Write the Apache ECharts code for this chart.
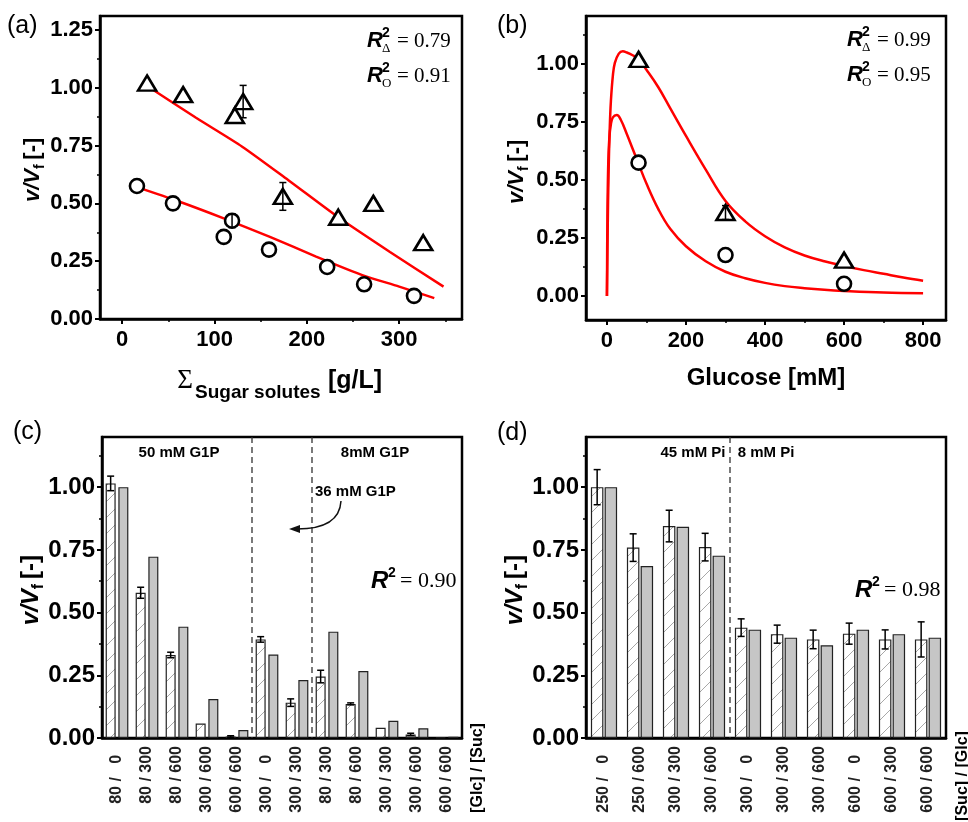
<!DOCTYPE html>
<html><head><meta charset="utf-8">
<script src="https://cdn.jsdelivr.net/npm/echarts@6/dist/echarts.min.js"></script>
<style>html,body{margin:0;padding:0;background:#fff}#c{width:968px;height:822px}</style>
</head><body><div id="c"></div>
<script>
// ---------- Panel (a) ----------
const aTriX = [27, 66, 122, 131, 174, 234, 272, 326];
const aTriY = [1.02, 0.97, 0.88, 0.94, 0.53, 0.44, 0.50, 0.33];
const aTriErr = [0, 0, 0, 0.07, 0.06, 0, 0, 0];
const aCirX = [16, 55, 110, 119, 159, 222, 262, 316];
const aCirY = [0.575, 0.50, 0.355, 0.425, 0.30, 0.225, 0.15, 0.10];
const aCirErr = [0, 0, 0, 0.03, 0, 0, 0, 0];
const aFitTriX = [30, 80, 130, 180, 234, 290, 348];
const aFitTriY = [1.00, 0.87, 0.745, 0.60, 0.44, 0.29, 0.14];
const aFitCirX = [16, 60, 110, 160, 210, 260, 300, 338];
const aFitCirY = [0.57, 0.51, 0.435, 0.355, 0.27, 0.19, 0.14, 0.09];
const aXTicks = [0, 100, 200, 300];
const aYTicks = [0, 0.25, 0.5, 0.75, 1.0, 1.25];

// ---------- Panel (b) ----------
const bX = [80, 300, 600];
const bTriY = [1.02, 0.36, 0.155];
const bTriErr = [0, 0.03, 0];
const bCirY = [0.575, 0.177, 0.053];
const bFitTriX = [0, 2, 4, 7, 10, 15, 20, 30, 40, 50, 65, 80, 100, 130, 160, 200, 250, 300, 350, 400, 450, 500, 550, 600, 650, 700, 750, 800];
const bFitTriY = [0, 0.30, 0.52, 0.72, 0.84, 0.95, 1.005, 1.045, 1.055, 1.05, 1.038, 1.02, 0.975, 0.90, 0.81, 0.69, 0.545, 0.41, 0.322, 0.258, 0.21, 0.175, 0.15, 0.13, 0.112, 0.096, 0.08, 0.066];
const bFitCirX = [0, 1, 3, 6, 10, 15, 25, 35, 50, 65, 80, 100, 130, 160, 200, 250, 300, 350, 400, 450, 500, 550, 600, 700, 800];
const bFitCirY = [0, 0.30, 0.55, 0.68, 0.74, 0.77, 0.78, 0.76, 0.70, 0.635, 0.57, 0.485, 0.375, 0.29, 0.215, 0.15, 0.105, 0.077, 0.057, 0.043, 0.034, 0.027, 0.022, 0.015, 0.012];
const bXTicks = [0, 200, 400, 600, 800];
const bYTicks = [0, 0.25, 0.5, 0.75, 1.0];

// ---------- Panel (c) ----------
const cCats = ['80 / 0', '80 / 300', '80 / 600', '300 / 600', '600 / 600', '300 / 0', '300 / 300', '80 / 300', '80 / 600', '300 / 300', '300 / 600', '600 / 600'];
const cExp = [1.015, 0.579, 0.331, 0.058, 0.006, 0.393, 0.141, 0.245, 0.136, 0.041, 0.014, 0.002];
const cExpErr = [0.029, 0.022, 0.011, 0, 0.003, 0.011, 0.015, 0.025, 0.004, 0, 0.005, 0];
const cModel = [1.00, 0.723, 0.444, 0.155, 0.032, 0.333, 0.231, 0.424, 0.267, 0.069, 0.039, 0.005];

// ---------- Panel (d) ----------
const dCats = ['250 / 0', '250 / 600', '300 / 300', '300 / 600', '300 / 0', '300 / 300', '300 / 600', '600 / 0', '600 / 300', '600 / 600'];
const dExp = [1.00, 0.759, 0.845, 0.761, 0.44, 0.414, 0.393, 0.416, 0.393, 0.393];
const dExpErr = [0.07, 0.055, 0.063, 0.055, 0.035, 0.036, 0.037, 0.042, 0.038, 0.07];
const dModel = [1.00, 0.686, 0.842, 0.727, 0.432, 0.40, 0.37, 0.432, 0.414, 0.40];
const cdYTicks = [0, 0.25, 0.5, 0.75, 1.0];

const SANS = "'Liberation Sans', Arial, sans-serif";
const SERIF = "'Liberation Serif', 'Times New Roman', serif";
const chart = echarts.init(document.getElementById('c'));

function hatch() {
  const s = 16, c = document.createElement('canvas');
  c.width = s; c.height = s;
  const g = c.getContext('2d');
  g.fillStyle = '#fff'; g.fillRect(0, 0, s, s);
  g.strokeStyle = '#a8a8a8'; g.lineWidth = 1;
  g.beginPath();
  g.moveTo(0, s); g.lineTo(s, 0);
  g.moveTo(-2, 2); g.lineTo(2, -2);
  g.moveTo(s - 2, s + 2); g.lineTo(s + 2, s - 2);
  g.stroke();
  return c;
}
const HATCH = { image: hatch(), repeat: 'repeat' };

function valAxis(gi, min, max, ticks, fs, pos) {
  return {
    type: 'value', gridIndex: gi, min: min, max: max, position: pos,
    splitLine: { show: false },
    axisLine: { show: true, onZero: false, lineStyle: { color: '#000', width: 2.5 } },
    axisTick: { show: true, inside: false, length: 5, customValues: ticks, lineStyle: { color: '#000', width: 2 } },
    axisLabel: { show: true, customValues: ticks, fontSize: fs, fontWeight: 'bold', fontFamily: SANS, color: '#000', margin: pos === 'left' ? 7 : 10,
      formatter: pos === 'left' ? (v => Number(v).toFixed(2)) : (v => String(v)) }
  };
}
function minorAxis(gi, min, max, ticks, pos) {
  return {
    type: 'value', gridIndex: gi, min: min, max: max, position: pos,
    splitLine: { show: false }, axisLine: { show: false, onZero: false }, axisLabel: { show: false },
    axisTick: { show: true, inside: false, length: 3, customValues: ticks, lineStyle: { color: '#000', width: 1.5 } }
  };
}
function padLabel(v) {
  const parts = v.split(' / ');
  const b = parts[1];
  const pad = ' '.repeat(Math.max(0, 3 - b.length));
  return parts[0] + ' / ' + pad + b + pad;
}
function catAxis(gi, cats) {
  return {
    type: 'category', gridIndex: gi, data: cats, position: 'bottom',
    axisLine: { show: true, onZero: false, lineStyle: { color: '#000', width: 2.5 } },
    axisTick: { show: false },
    axisLabel: { interval: 0, rotate: 90, fontSize: 16, fontWeight: 'bold', fontFamily: SANS, color: '#222', margin: 8, formatter: padLabel }
  };
}
function errRender(dx) {
  return function (params, api) {
    const x = api.value(0), y = api.value(1), e = api.value(2);
    if (!e) return null;
    const p1 = api.coord([x, y + e]), p2 = api.coord([x, y - e]);
    const cx = p1[0] + dx, w = 3.5, st = { stroke: '#000', lineWidth: 1.5 };
    return { type: 'group', children: [
      { type: 'line', shape: { x1: cx, y1: p1[1], x2: cx, y2: p2[1] }, style: st },
      { type: 'line', shape: { x1: cx - w, y1: p1[1], x2: cx + w, y2: p1[1] }, style: st },
      { type: 'line', shape: { x1: cx - w, y1: p2[1], x2: cx + w, y2: p2[1] }, style: st }
    ] };
  };
}
const zip = (xs, ys) => xs.map((x, i) => [x, ys[i]]);
const zip3 = (xs, ys, es) => xs.map((x, i) => [x, ys[i], es[i]]);
const idx3 = (ys, es) => ys.map((y, i) => [i, y, es[i]]);

const symStyle = { color: '#fff', borderColor: '#000', borderWidth: 2.6, opacity: 1 };
const redLine = { color: '#ff0000', width: 2.5 };
const C_BW = 10, C_GAP = 2.7, D_BW = 12.5, D_GAP = 1.2;
const fitLine = (xi, yi, data, sm) => ({ type: 'line', xAxisIndex: xi, yAxisIndex: yi, data: data, smooth: sm, showSymbol: false, symbol: 'none', lineStyle: redLine, itemStyle: { color: '#ff0000' }, z: 2 });

const option = {
  animation: false,
  backgroundColor: '#fff',
  grid: [
    { left: 100, top: 16, width: 362, height: 303 },
    { left: 586, top: 16, width: 360, height: 304 },
    { left: 102, top: 437, width: 360, height: 301 },
    { left: 586, top: 437, width: 360, height: 301 }
  ].map(g => Object.assign(g, { show: true, borderColor: '#000', borderWidth: 2.5, backgroundColor: 'rgba(0,0,0,0)' })),
  xAxis: [
    valAxis(0, -24, 368, aXTicks, 22, 'bottom'),
    valAxis(1, -53, 858, bXTicks, 22, 'bottom'),
    catAxis(2, cCats),
    catAxis(3, dCats),
    minorAxis(0, -24, 368, [50, 150, 250, 350], 'bottom'),
    minorAxis(1, -53, 858, [100, 300, 500, 700], 'bottom')
  ],
  yAxis: [
    valAxis(0, 0, 1.31, aYTicks, 22, 'left'),
    valAxis(1, -0.103, 1.207, bYTicks, 22, 'left'),
    valAxis(2, 0, 1.2, cdYTicks, 24, 'left'),
    valAxis(3, 0, 1.2, cdYTicks, 24, 'left'),
    minorAxis(0, 0, 1.31, [0.125, 0.375, 0.625, 0.875, 1.125], 'left'),
    minorAxis(1, -0.103, 1.207, [0.125, 0.375, 0.625, 0.875, 1.125], 'left'),
    minorAxis(2, 0, 1.2, [0.125, 0.375, 0.625, 0.875, 1.125], 'left'),
    minorAxis(3, 0, 1.2, [0.125, 0.375, 0.625, 0.875, 1.125], 'left')
  ],
  series: [
    // (a)
    fitLine(0, 0, zip(aFitTriX, aFitTriY), 0.25),
    fitLine(0, 0, zip(aFitCirX, aFitCirY), 0.25),
    { type: 'scatter', xAxisIndex: 0, yAxisIndex: 0, data: zip(aTriX, aTriY), symbol: 'triangle', symbolSize: [18, 15], itemStyle: symStyle, z: 3 },
    { type: 'scatter', xAxisIndex: 0, yAxisIndex: 0, data: zip(aCirX, aCirY), symbol: 'circle', symbolSize: 14, itemStyle: symStyle, z: 3 },
    { type: 'custom', xAxisIndex: 0, yAxisIndex: 0, data: zip3(aTriX, aTriY, aTriErr), renderItem: errRender(0), z: 4 },
    { type: 'custom', xAxisIndex: 0, yAxisIndex: 0, data: zip3(aCirX, aCirY, aCirErr), renderItem: errRender(0), z: 4 },
    // (b)
    fitLine(1, 1, zip(bFitTriX, bFitTriY), 0.4),
    fitLine(1, 1, zip(bFitCirX, bFitCirY), 0.4),
    { type: 'scatter', xAxisIndex: 1, yAxisIndex: 1, data: zip(bX, bTriY), symbol: 'triangle', symbolSize: [18, 15], itemStyle: symStyle, z: 3 },
    { type: 'scatter', xAxisIndex: 1, yAxisIndex: 1, data: zip(bX, bCirY), symbol: 'circle', symbolSize: 14, itemStyle: symStyle, z: 3 },
    { type: 'custom', xAxisIndex: 1, yAxisIndex: 1, data: zip3(bX, bTriY, bTriErr), renderItem: errRender(0), z: 4 },
    // (c)
    { type: 'bar', xAxisIndex: 2, yAxisIndex: 2, data: cExp, barWidth: C_BW, barGap: (C_GAP / C_BW * 100) + '%', itemStyle: { color: HATCH, borderColor: '#222', borderWidth: 1.2 }, z: 2 },
    { type: 'bar', xAxisIndex: 2, yAxisIndex: 2, data: cModel, barWidth: C_BW, barGap: (C_GAP / C_BW * 100) + '%', itemStyle: { color: '#c6c6c6', borderColor: '#222', borderWidth: 1.2 }, z: 2 },
    { type: 'custom', xAxisIndex: 2, yAxisIndex: 2, data: idx3(cExp, cExpErr), renderItem: errRender(-(C_BW + C_GAP) / 2), z: 4 },
    // (d)
    { type: 'bar', xAxisIndex: 3, yAxisIndex: 3, data: dExp, barWidth: D_BW, barGap: (D_GAP / D_BW * 100) + '%', itemStyle: { color: HATCH, borderColor: '#222', borderWidth: 1.2 }, z: 2 },
    { type: 'bar', xAxisIndex: 3, yAxisIndex: 3, data: dModel, barWidth: D_BW, barGap: (D_GAP / D_BW * 100) + '%', itemStyle: { color: '#c6c6c6', borderColor: '#222', borderWidth: 1.2 }, z: 2 },
    { type: 'custom', xAxisIndex: 3, yAxisIndex: 3, data: idx3(dExp, dExpErr), renderItem: errRender(-(D_BW + D_GAP) / 2), z: 4 }
  ]
};
chart.setOption(option);

// ---------- annotations ----------
function txt(x, y, text, font, align, extra) {
  return Object.assign({ type: 'text', x: x, y: y, z: 100, style: { text: text, fill: '#000', font: font, align: align || 'center', textAlign: align || 'center', verticalAlign: 'middle', textVerticalAlign: 'middle' } }, extra || {});
}
function r2(x, y, sub, val, big) {
  const rs = big ? 24 : 22;
  const els = [
    txt(x, y, 'R', 'italic bold ' + rs + 'px ' + SANS, 'left'),
    txt(x + (big ? 17 : 15), y - 8, '2', 'bold 14px ' + SANS, 'left')
  ];
  if (sub) els.push(txt(x + 15, y + 8, sub, '13px ' + SERIF, 'left'));
  els.push(txt(x + (sub ? 30 : 29), y, '= ' + val, (big ? 22 : 21) + 'px ' + SERIF, 'left'));
  return els;
}
function ylab(cx, cy, fs) {
  return { type: 'group', x: cx, y: cy, rotation: Math.PI / 2, z: 100, children: [
    txt(-fs * 1.55, 0, 'v/V', 'italic bold ' + fs + 'px ' + SANS, 'left'),
    txt(-fs * 0.05, fs * 0.32, 'f', 'bold ' + Math.round(fs * 0.65) + 'px ' + SANS, 'left'),
    txt(fs * 0.38, 0, '[-]', 'bold ' + fs + 'px ' + SANS, 'left')
  ] };
}
const g = [];
g.push(txt(7, 26, '(a)', '25px ' + SANS, 'left'));
g.push(txt(497, 26, '(b)', '25px ' + SANS, 'left'));
g.push(txt(13, 432, '(c)', '25px ' + SANS, 'left'));
g.push(txt(497, 433, '(d)', '25px ' + SANS, 'left'));
g.push(ylab(33, 168, 22), ylab(517, 170, 22), ylab(31, 588, 24), ylab(515, 588, 24));
g.push(...r2(367, 41, 'Δ', '0.79'), ...r2(367, 76, 'O', '0.91'));
g.push(...r2(847, 40, 'Δ', '0.99'), ...r2(847, 75, 'O', '0.95'));
g.push(...r2(371, 581, null, '0.90', true), ...r2(855, 590, null, '0.98', true));
// x-axis titles
g.push(txt(185, 381, 'Σ', '27px ' + SERIF));
g.push(txt(195, 393, 'Sugar solutes', 'bold 19px ' + SANS, 'left'));
g.push(txt(328, 381, '[g/L]', 'bold 25px ' + SANS, 'left'));
g.push(txt(766, 378, 'Glucose [mM]', 'bold 24px ' + SANS));
// rotated category-axis titles
g.push(txt(478, 768, '[Glc] / [Suc]', 'bold 16px ' + SANS, 'center', { rotation: Math.PI / 2 }));
g.push(txt(963, 776, '[Suc] / [Glc]', 'bold 16px ' + SANS, 'center', { rotation: Math.PI / 2 }));
// group headers
g.push(txt(179, 453, '50 mM G1P', 'bold 15px ' + SANS));
g.push(txt(375, 453, '8mM G1P', 'bold 15px ' + SANS));
g.push(txt(315, 492, '36 mM G1P', 'bold 15px ' + SANS, 'left'));
g.push(txt(693, 453, '45 mM Pi', 'bold 15px ' + SANS));
g.push(txt(766, 453, '8 mM Pi', 'bold 15px ' + SANS));
// curved arrow
g.push({ type: 'bezierCurve', z: 100, shape: { x1: 341, y1: 501, cpx1: 340, cpy1: 519, cpx2: 326, cpy2: 529, x2: 297, y2: 529 }, style: { stroke: '#111', lineWidth: 1.5, fill: null } });
g.push({ type: 'polygon', z: 100, shape: { points: [[289, 529], [300, 525], [300, 533]] }, style: { fill: '#111' } });
// dashed separators
function sep(xi, yi, a, b) {
  const x = (chart.convertToPixel({ xAxisIndex: xi }, a) + chart.convertToPixel({ xAxisIndex: xi }, b)) / 2;
  const yT = chart.convertToPixel({ yAxisIndex: yi }, 1.2), yB = chart.convertToPixel({ yAxisIndex: yi }, 0);
  return { type: 'line', z: 50, shape: { x1: x, y1: yT, x2: x, y2: yB }, style: { stroke: '#333', lineWidth: 1.3, lineDash: [6, 4] } };
}
g.push(sep(2, 2, 4, 5), sep(2, 2, 6, 7), sep(3, 3, 3, 4));
chart.setOption({ graphic: g });
</script>
</body></html>
